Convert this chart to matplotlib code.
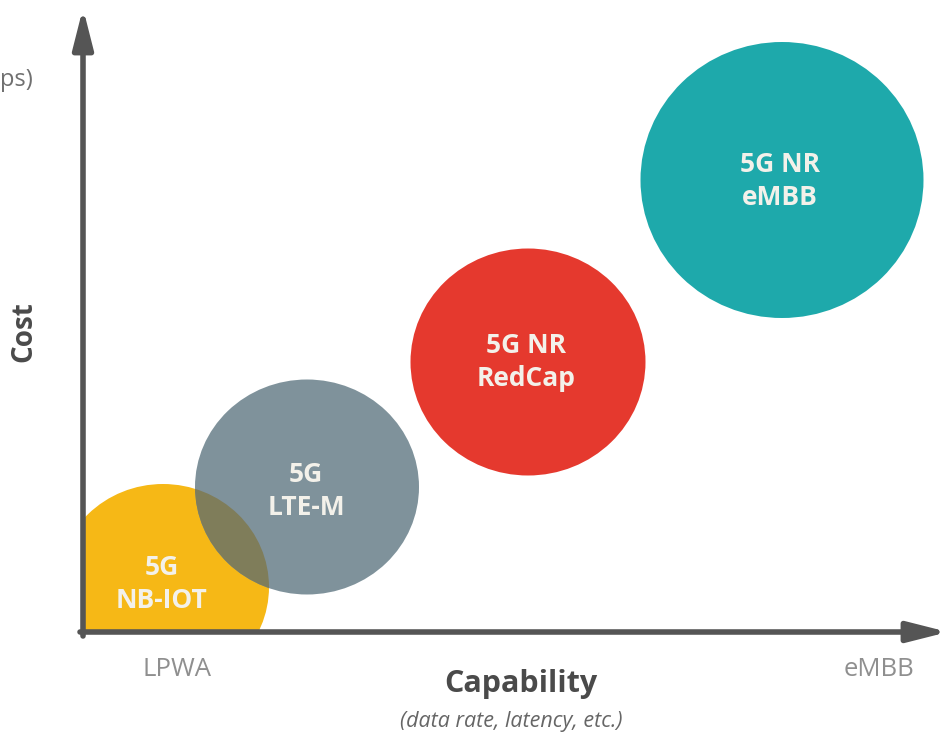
import matplotlib
matplotlib.use("Agg")
import matplotlib.pyplot as plt
from matplotlib.patches import Ellipse, FancyArrowPatch

# bubble data: capability (x) and cost (y), bubble widths/heights in the same units
tech_labels = ["5G\nNB-IOT", "5G\nLTE-M", "5G NR\nRedCap", "5G NR\neMBB"]
capability = [80, 224, 445, 699]
cost = [45, 145, 270, 452]
bubble_w = [212, 224, 235, 283]
bubble_h = [206, 215, 227, 276]
label_x = [79, 223, 443, 697]
label_y = [48, 141, 270, 451]
colors = ["#f6b816", "#7f929b", "#e5392e", "#1ea9ab"]
overlap_color = "#7f7d5a"

x_ends = ["LPWA", "eMBB"]
x_end_pos = [94, 796]

plt.rcParams['font.family'] = ['Open Sans', 'DejaVu Sans']

fig = plt.figure(figsize=(9.51, 7.39), dpi=100)
ax = fig.add_axes([83 / 951, (739 - 632) / 739, (951 - 83) / 951, 632 / 739])
ax.set_xlim(0, 868)
ax.set_ylim(0, 632)
ax.axis('off')

patches = []
for i in range(len(tech_labels)):
    e = Ellipse((capability[i], cost[i]), bubble_w[i], bubble_h[i],
                facecolor=colors[i], edgecolor='none', zorder=2)
    ax.add_patch(e)
    patches.append(e)

# darker overlap where LTE-M sits over NB-IOT
ov = Ellipse((capability[1], cost[1]), bubble_w[1], bubble_h[1],
             facecolor=overlap_color, edgecolor='none', zorder=3)
ax.add_patch(ov)
ov.set_clip_path(patches[0])

for i, lab in enumerate(tech_labels):
    ax.text(label_x[i], label_y[i], lab, ha='center', va='center',
            color='#f3f1ea', fontsize=19, fontweight='bold',
            linespacing=1.25, zorder=5)

# axes with arrows
axis_col = '#555555'
arrow_style = '-|>,head_length=1.5,head_width=0.38'
ax.add_patch(FancyArrowPatch((0, -4), (0, 624), arrowstyle=arrow_style,
                             mutation_scale=16, color=axis_col, lw=4, clip_on=False, zorder=6,
                             shrinkA=0, shrinkB=0))
ax.add_patch(FancyArrowPatch((-3, 0), (865, 0), arrowstyle=arrow_style,
                             mutation_scale=16, color=axis_col, lw=4, clip_on=False, zorder=6,
                             shrinkA=0, shrinkB=0))

# text around the axes
fig.text(24 / 951, 1 - 332 / 739, "Cost", rotation=90, ha='center', va='center',
         fontsize=20, fontweight='bold', color='#4a4a4a')
fig.text(0, 1 - 80 / 739, "ps)", ha='left', va='center',
         fontsize=17, color='#707070')
for lab, xp in zip(x_ends, x_end_pos):
    ax.text(xp, -37, lab, ha='center', va='center', fontsize=18.5,
            color='#8f8f8f', clip_on=False)
fig.text(521 / 951, 1 - 684 / 739, "Capability", ha='center', va='center',
         fontsize=22, fontweight='bold', color='#4a4a4a')
fig.text(511 / 951, 1 - 721 / 739, "(data rate, latency, etc.)", ha='center', va='center',
         fontsize=15.5, style='italic', color='#666666')

fig.savefig("out.png", dpi=100)
